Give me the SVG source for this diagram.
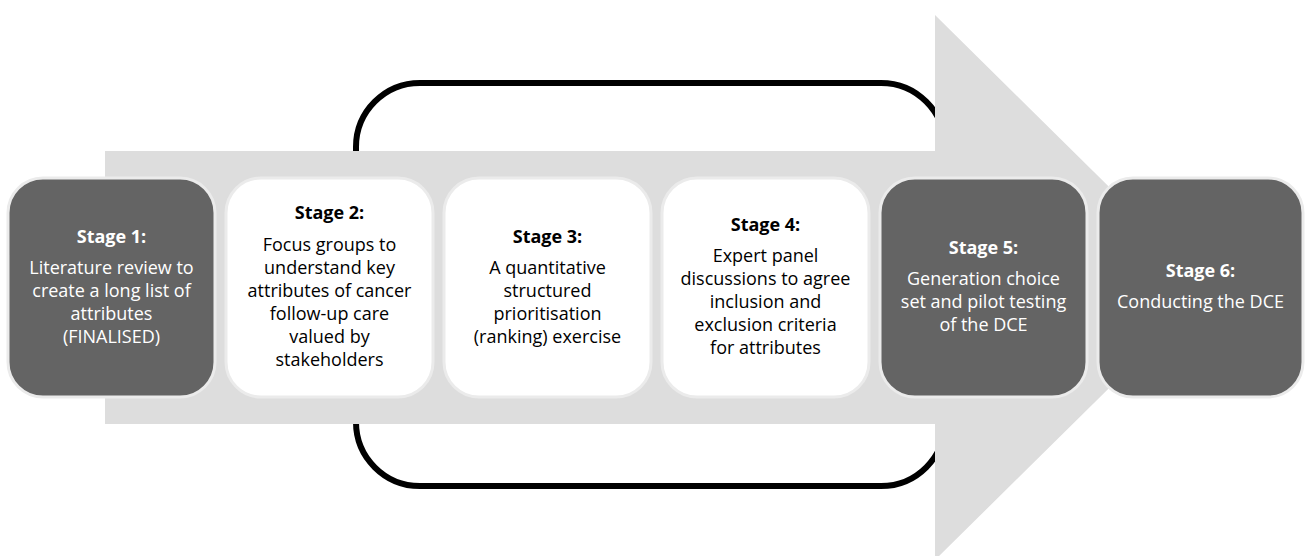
<svg xmlns="http://www.w3.org/2000/svg" width="1305" height="556" viewBox="0 0 1305 556">
  <style>
    .loop { fill: none; stroke: #000000; stroke-width: 6; }
    .arrow { fill: #dddddd; }
    .box { stroke: #ebebeb; stroke-width: 3; }
    .dark { fill: #646464; }
    .light { fill: #ffffff; }
    text { font-family: "Open Sans", "Liberation Sans", sans-serif; font-size: 18px; text-anchor: middle; }
    .dark-t { fill: #ffffff; }
    .light-t { fill: #000000; }
    .head { font-weight: bold; }
  </style>

  <!-- feedback loop outline behind the process arrow -->
  <g id="connectors">
    <rect class="loop" x="356" y="83" width="589" height="403" rx="64" ry="64"/>
    <polygon class="arrow" points="105,151 935,151 935,15 1211,287.5 935,560 935,424 105,424"/>
  </g>

  <g id="stage1">
    <rect class="box dark" x="8" y="178" width="207" height="219" rx="35" ry="35"/>
    <text class="dark-t head" x="111.5" y="243">Stage 1:</text>
    <text class="dark-t" x="111.5" y="274">Literature review to</text>
    <text class="dark-t" x="111.5" y="297">create a long list of</text>
    <text class="dark-t" x="111.5" y="320">attributes</text>
    <text class="dark-t" x="111.5" y="343">(FINALISED)</text>
  </g>

  <g id="stage2">
    <rect class="box light" x="226" y="178" width="207" height="219" rx="35" ry="35"/>
    <text class="light-t head" x="329.5" y="219">Stage 2:</text>
    <text class="light-t" x="329.5" y="251">Focus groups to</text>
    <text class="light-t" x="329.5" y="274">understand key</text>
    <text class="light-t" x="329.5" y="297">attributes of cancer</text>
    <text class="light-t" x="329.5" y="320">follow-up care</text>
    <text class="light-t" x="329.5" y="343">valued by</text>
    <text class="light-t" x="329.5" y="366">stakeholders</text>
  </g>

  <g id="stage3">
    <rect class="box light" x="444" y="178" width="207" height="219" rx="35" ry="35"/>
    <text class="light-t head" x="547.5" y="243">Stage 3:</text>
    <text class="light-t" x="547.5" y="274">A quantitative</text>
    <text class="light-t" x="547.5" y="297">structured</text>
    <text class="light-t" x="547.5" y="320">prioritisation</text>
    <text class="light-t" x="547.5" y="343">(ranking) exercise</text>
  </g>

  <g id="stage4">
    <rect class="box light" x="662" y="178" width="207" height="219" rx="35" ry="35"/>
    <text class="light-t head" x="765.5" y="231">Stage 4:</text>
    <text class="light-t" x="765.5" y="262">Expert panel</text>
    <text class="light-t" x="765.5" y="285">discussions to agree</text>
    <text class="light-t" x="765.5" y="308">inclusion and</text>
    <text class="light-t" x="765.5" y="331">exclusion criteria</text>
    <text class="light-t" x="765.5" y="354">for attributes</text>
  </g>

  <g id="stage5">
    <rect class="box dark" x="880" y="178" width="207" height="219" rx="35" ry="35"/>
    <text class="dark-t head" x="983.5" y="254">Stage 5:</text>
    <text class="dark-t" x="983.5" y="285">Generation choice</text>
    <text class="dark-t" x="983.5" y="308">set and pilot testing</text>
    <text class="dark-t" x="983.5" y="331">of the DCE</text>
  </g>

  <g id="stage6">
    <rect class="box dark" x="1098" y="178" width="205" height="219" rx="35" ry="35"/>
    <text class="dark-t head" x="1200.5" y="277">Stage 6:</text>
    <text class="dark-t" x="1200.5" y="308">Conducting the DCE</text>
  </g>
</svg>
